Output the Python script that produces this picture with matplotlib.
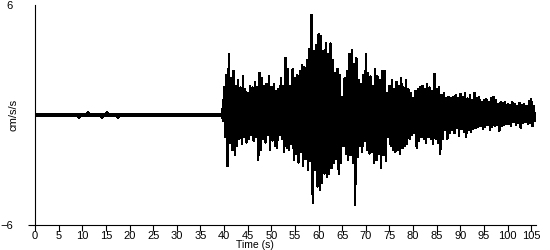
import numpy as np
import matplotlib
matplotlib.use("Agg")
from matplotlib import pyplot as plt

# quiet part before the shaking: a flat trace with a few tiny blips
quiet_t = [0.0, 9.4, 9.4, 9.4, 11.3, 11.3, 11.3, 14.1, 14.1, 14.1,
           15.2, 15.2, 15.2, 17.6, 17.6, 17.6, 39.5]
quiet_v = [0.0, 0.0, -0.09, 0.0, 0.0, 0.09, 0.0, 0.0, -0.09, 0.0,
           0.0, 0.09, 0.0, 0.0, -0.09, 0.0, 0.0]

# strong motion, one positive and one negative peak per half second (cm/s/s)
wave_start = 39.5
wave_step = 0.5
peak_hi = [0.3, 1.5, 2.2, 3.35, 2.0, 2.4, 1.6, 1.9, 1.5, 2.1,
           1.4, 1.2, 1.6, 1.5, 1.8, 1.5, 2.3, 2.0, 1.6, 1.7,
           2.1, 1.5, 1.7, 1.3, 1.4, 2.0, 1.6, 3.1, 2.5, 1.6,
           2.5, 2.0, 2.2, 2.4, 2.75, 2.6, 3.0, 3.6, 5.45, 3.5,
           3.8, 4.4, 4.3, 3.5, 3.9, 3.3, 3.9, 3.0, 2.3, 2.5,
           2.2, 1.0, 2.0, 2.4, 3.3, 3.55, 2.8, 3.1, 1.9, 1.7,
           2.2, 3.3, 2.3, 2.1, 1.6, 2.5, 2.1, 1.9, 2.4, 2.4,
           1.2, 1.6, 1.9, 1.4, 1.8, 1.6, 2.0, 1.5, 1.9, 1.4,
           1.2, 0.9, 1.3, 1.4, 1.5, 1.6, 1.4, 1.7, 1.5, 1.3,
           2.25, 1.4, 1.5, 1.1, 1.2, 0.9, 1.0, 0.9, 1.0, 1.1,
           0.9, 1.15, 1.0, 1.2, 0.9, 1.1, 0.8, 1.2, 0.9, 1.0,
           0.7, 0.8, 0.85, 0.7, 0.9, 1.0, 0.8, 0.6, 0.7, 0.65,
           0.7, 0.6, 0.55, 0.7, 0.6, 0.5, 0.65, 0.55, 0.6, 0.5,
           0.75, 0.85, 0.5, 0.1]
peak_lo = [-0.3, -1.2, -2.8, -1.5, -1.9, -2.2, -1.7, -1.3, -1.6, -1.2,
           -1.5, -1.3, -1.1, -1.4, -1.2, -2.45, -1.9, -1.3, -1.5, -1.1,
           -1.9, -1.4, -1.7, -1.8, -1.1, -1.3, -2.0, -1.8, -1.9, -1.6,
           -2.45, -2.1, -2.6, -2.0, -2.8, -2.4, -3.0, -2.5, -4.8, -3.0,
           -3.9, -4.1, -3.7, -3.2, -3.4, -3.2, -2.9, -2.6, -2.4, -3.2,
           -2.6, -1.7, -2.1, -2.45, -2.2, -2.6, -4.9, -2.3, -1.7, -2.0,
           -1.4, -1.9, -2.1, -2.0, -2.6, -2.45, -2.1, -2.9, -2.2, -2.5,
           -1.2, -1.7, -1.9, -2.0, -1.9, -2.1, -1.8, -1.7, -1.6, -1.3,
           -1.1, -1.0, -1.8, -1.4, -1.2, -1.3, -1.5, -1.2, -1.3, -1.6,
           -1.3, -1.5, -2.1, -1.3, -0.8, -1.3, -1.0, -0.8, -1.0, -0.7,
           -1.15, -0.75, -0.9, -1.2, -0.8, -0.9, -0.75, -0.7, -0.65, -0.6,
           -0.75, -0.65, -0.55, -0.8, -0.65, -0.6, -0.55, -0.85, -0.6, -0.55,
           -0.5, -0.5, -0.6, -0.4, -0.55, -0.45, -0.7, -0.45, -0.4, -0.5,
           -0.45, -0.6, -0.3, 0.0]

x_ticks = list(range(0, 106, 5))
y_ticks = [-6, 6]

plt.rcParams["font.family"] = ["Liberation Sans", "DejaVu Sans"]

fig = plt.figure(figsize=(5.5, 2.5), dpi=100)
ax = fig.add_axes([35 / 550, 25 / 250, 501 / 550, 220 / 250])

wave_t = []
wave_v = []
for i in range(len(peak_hi)):
    t = wave_start + i * wave_step
    wave_t += [t, t + wave_step / 2]
    wave_v += [peak_hi[i], peak_lo[i]]

ax.plot(quiet_t, quiet_v, color="black", lw=1.6, antialiased=False)
ax.plot(wave_t, wave_v, color="black", lw=0.9, antialiased=False)

ax.set_xlim(0, 106)
ax.set_ylim(-6, 6)
ax.set_xticks(x_ticks)
ax.set_yticks(y_ticks)
ax.tick_params(axis="x", length=4, width=0.8, pad=0, labelsize=8)
ax.tick_params(axis="y", length=5, width=0.8, pad=11, labelsize=8)
ax.yaxis.get_major_ticks()[1].tick1line.set_visible(False)
for side in ["top", "right"]:
    ax.spines[side].set_visible(False)
for side in ["left", "bottom"]:
    ax.spines[side].set_linewidth(0.8)

ax.set_xlabel("Time (s)", fontsize=7.5)
ax.xaxis.set_label_coords(0.439, -0.066)
ax.set_ylabel("cm/s/s", fontsize=8)
ax.yaxis.set_label_coords(-0.033, 0.5)

fig.savefig("out.png", dpi=100)
